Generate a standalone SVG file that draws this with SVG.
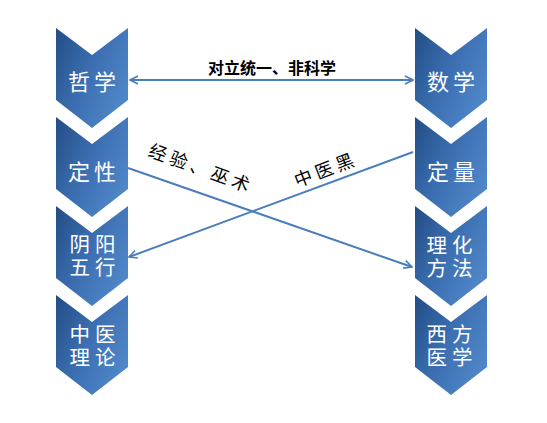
<svg xmlns="http://www.w3.org/2000/svg" width="547" height="423" viewBox="0 0 547 423">
  <defs>
    <linearGradient id="g" x1="0" y1="0" x2="1" y2="0.6">
      <stop offset="0" stop-color="#234d85"/>
      <stop offset="0.5" stop-color="#3a6daf"/>
      <stop offset="1" stop-color="#4f86c8"/>
    </linearGradient>
    <path id="chev" d="M0,0 L36,27 L72,0 L72,72 L36,100 L0,72 Z"/>
    <marker id="ah" viewBox="0 0 10 10" refX="9" refY="5" markerWidth="10" markerHeight="10" markerUnits="userSpaceOnUse" orient="auto-start-reverse">
      <path d="M1,1 L9,5 L1,9" fill="none" stroke="#4a7ebb" stroke-width="1.6"/>
    </marker>
  </defs>
  <style>
    .c { fill: url(#g); }
    .t { fill: #ffffff; font-family: "Noto Sans CJK SC", sans-serif; font-size: 22px; letter-spacing: 4px; text-anchor: middle; }
    .t2 { fill: #ffffff; font-family: "Liberation Sans", "Noto Sans CJK SC", sans-serif; font-size: 20.5px; letter-spacing: 5px; text-anchor: middle; }
    .l { fill: #000000; font-family: "Noto Sans CJK SC", sans-serif; text-anchor: middle; }
    .ln { stroke: #4a7ebb; stroke-width: 2; fill: none; }
  </style>
  <rect width="547" height="423" fill="#ffffff"/>

  <g id="n-zhexue"><use href="#chev" x="56" y="28" class="c"/><text class="t" x="94" y="90">哲学</text></g>
  <g id="n-dingxing"><use href="#chev" x="56" y="117" class="c"/><text class="t" x="94" y="180">定性</text></g>
  <g id="n-yinyang"><use href="#chev" x="56" y="206" class="c"/><text class="t2" x="95" y="252"><tspan x="95">阴阳</tspan><tspan x="95" dy="23">五行</tspan></text></g>
  <g id="n-zhongyi"><use href="#chev" x="56" y="295" class="c"/><text class="t2" x="95" y="342"><tspan x="95">中医</tspan><tspan x="95" dy="23">理论</tspan></text></g>

  <g id="n-shuxue"><use href="#chev" x="415" y="28" class="c"/><text class="t" x="453" y="90">数学</text></g>
  <g id="n-dingliang"><use href="#chev" x="415" y="117" class="c"/><text class="t" x="453" y="180">定量</text></g>
  <g id="n-lihua"><use href="#chev" x="415" y="206" class="c"/><text class="t2" x="452" y="253"><tspan x="452">理化</tspan><tspan x="452" dy="23">方法</tspan></text></g>
  <g id="n-xifang"><use href="#chev" x="415" y="295" class="c"/><text class="t2" x="452" y="342"><tspan x="452">西方</tspan><tspan x="452" dy="23">医学</tspan></text></g>

  <g id="connectors">
    <line class="ln" x1="130" y1="80" x2="413" y2="80" marker-start="url(#ah)" marker-end="url(#ah)"/>
    <line class="ln" x1="128" y1="168" x2="412" y2="267" marker-end="url(#ah)"/>
    <line class="ln" x1="413" y1="152" x2="129" y2="257" marker-end="url(#ah)"/>
    <text class="l" x="272" y="74" font-size="16" font-weight="bold">对立统一、非科学</text>
    <text class="l" x="201" y="175" font-size="18" letter-spacing="4" transform="rotate(20 201 169)">经验、巫术</text>
    <text class="l" x="326" y="176" font-size="18" letter-spacing="4" transform="rotate(-21 326 170)">中医黑</text>
  </g>
</svg>
